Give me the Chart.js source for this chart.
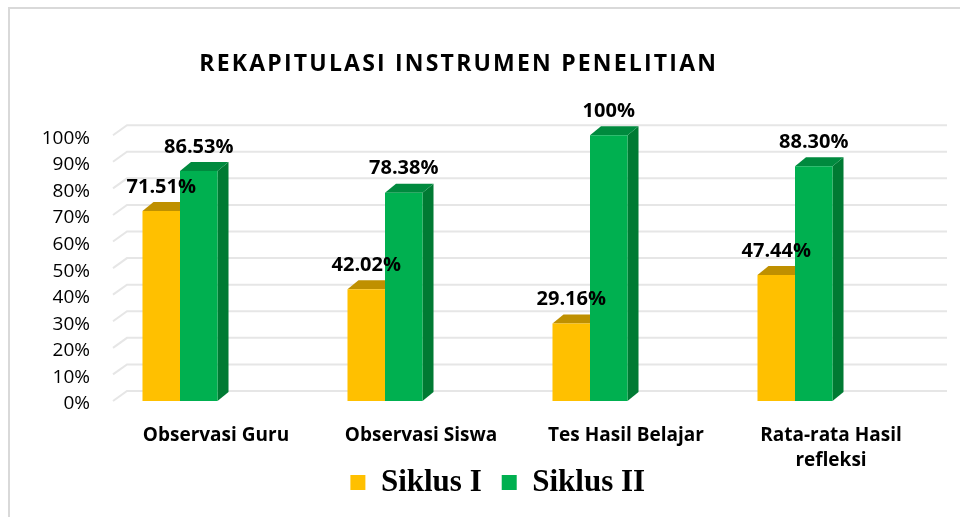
<!DOCTYPE html>
<html>
<head>
<meta charset="utf-8">
<script src="https://cdn.jsdelivr.net/npm/chart.js@4.4.1/dist/chart.umd.min.js"></script>
<style>
  html, body { margin: 0; padding: 0; background: #fff; }
  #wrap { width: 960px; height: 517px; position: relative; }
</style>
</head>
<body>
<div id="wrap"><canvas id="c" width="960" height="517"></canvas></div>
<script>
const categories = ['Observasi Guru', 'Observasi Siswa', 'Tes Hasil Belajar', ['Rata-rata Hasil', 'refleksi']];
const seriesNames = ['Siklus I', 'Siklus II'];
const siklus1 = [71.51, 42.02, 29.16, 47.44];
const siklus2 = [86.53, 78.38, 100, 88.30];
const yTicks = [0, 10, 20, 30, 40, 50, 60, 70, 80, 90, 100];
const chartTitle = 'REKAPITULASI INSTRUMEN PENELITIAN';

const FRONT = ['#FFC000', '#00B050'];
const TOP = ['#BF9000', '#008A3E'];
const SIDE = ['#A87E00', '#007A33'];
const DX = 11, DY = 9;
const BAR_SHIFT = -36;
const SANS = "'Open Sans', sans-serif";

function fmt(v) { return Number.isInteger(v) ? v + '%' : v.toFixed(2) + '%'; }

const frame = {
  id: 'frame',
  beforeDraw(chart) {
    const ctx = chart.ctx;
    ctx.save();
    ctx.fillStyle = '#fff';
    ctx.fillRect(0, 0, chart.width, chart.height);
    ctx.strokeStyle = '#d9d9d9';
    ctx.lineWidth = 2;
    ctx.beginPath();
    ctx.moveTo(9, chart.height);
    ctx.lineTo(9, 8);
    ctx.lineTo(chart.width, 8);
    ctx.stroke();
    ctx.restore();
  }
};

const shiftBlocks = {
  id: 'shiftBlocks',
  afterLayout(chart) {
    const t = chart.titleBlock;
    if (t) {
      t.top += 2; t.bottom += 2;
      t.left -= 13; t.right -= 13;
      if (!t._spaced) {
        const orig = t.draw.bind(t);
        t.draw = function () {
          const ctx = chart.ctx;
          ctx.save();
          ctx.letterSpacing = '2.2px';
          orig();
          ctx.restore();
        };
        t._spaced = true;
      }
    }
    const l = chart.legend;
    if (l) { l.left += 26; l.right += 26; l.top -= 8; l.bottom -= 8; }
    const xs = chart.scales.x;
    if (xs) { xs.bottom += 24; xs.height += 24; }
  }
};

const bars3d = {
  id: 'bars3d',
  beforeDatasetsDraw(chart) {
    const ctx = chart.ctx;
    const ys = chart.scales.y;
    ctx.save();
    // back-wall gridlines
    ctx.strokeStyle = '#e6e6e6';
    ctx.lineWidth = 2;
    yTicks.forEach(v => {
      const y = ys.getPixelForValue(v);
      ctx.beginPath();
      ctx.moveTo(113, y);
      ctx.lineTo(127, y - 10);
      ctx.lineTo(947, y - 10);
      ctx.stroke();
    });
    ctx.restore();
    // shift the bar groups (3D perspective offset) and draw top/side faces
    ctx.save();
    ctx.translate(BAR_SHIFT, 0);
    chart.data.datasets.forEach((ds, di) => {
      const meta = chart.getDatasetMeta(di);
      meta.data.forEach(el => {
        const p = el.getProps(['x', 'y', 'base', 'width'], true);
        const l = p.x - p.width / 2, r = p.x + p.width / 2;
        ctx.fillStyle = SIDE[di];
        ctx.beginPath();
        ctx.moveTo(r, p.y);
        ctx.lineTo(r + DX, p.y - DY);
        ctx.lineTo(r + DX, p.base - DY);
        ctx.lineTo(r, p.base);
        ctx.closePath();
        ctx.fill();
        ctx.fillStyle = TOP[di];
        ctx.beginPath();
        ctx.moveTo(l, p.y);
        ctx.lineTo(l + DX, p.y - DY);
        ctx.lineTo(r + DX, p.y - DY);
        ctx.lineTo(r, p.y);
        ctx.closePath();
        ctx.fill();
      });
    });
  },
  afterDatasetsDraw(chart) {
    const ctx = chart.ctx;
    ctx.font = "bold 20px " + SANS;
    ctx.fillStyle = '#000';
    ctx.textAlign = 'center';
    ctx.textBaseline = 'middle';
    chart.data.datasets.forEach((ds, di) => {
      const meta = chart.getDatasetMeta(di);
      meta.data.forEach((el, i) => {
        const p = el.getProps(['x', 'y'], true);
        ctx.fillText(fmt(ds.data[i]), p.x, p.y - 24);
      });
    });
    ctx.restore();
  }
};

new Chart(document.getElementById('c'), {
  type: 'bar',
  data: {
    labels: categories,
    datasets: [
      { label: seriesNames[0], data: siklus1, backgroundColor: FRONT[0], borderWidth: 0, categoryPercentage: 0.366, barPercentage: 1, clip: false },
      { label: seriesNames[1], data: siklus2, backgroundColor: FRONT[1], borderWidth: 0, categoryPercentage: 0.366, barPercentage: 1, clip: false }
    ]
  },
  options: {
    responsive: false,
    animation: false,
    events: [],
    layout: { padding: { left: 10, right: 26.5, top: 10, bottom: 1 } },
    scales: {
      x: {
        grid: { display: false, drawTicks: false },
        border: { display: false },
        ticks: {
          color: '#000',
          font: { family: SANS, size: 19, weight: 'bold', lineHeight: 1.3 },
          padding: 22.6,
          maxRotation: 0,
          autoSkip: false
        },
        afterFit(s) { s.height = 54; }
      },
      y: {
        min: 0, max: 100,
        grid: { display: false, drawTicks: false },
        border: { display: false },
        ticks: {
          stepSize: 10,
          autoSkip: false,
          color: '#000',
          font: { family: SANS, size: 19 },
          padding: 23.5,
          labelOffset: 3,
          callback: v => v + '%'
        },
        afterFit(s) { s.width = 103.5; }
      }
    },
    plugins: {
      tooltip: { enabled: false },
      title: {
        display: true,
        text: chartTitle,
        color: '#000',
        font: { family: SANS, size: 23, weight: 'bold', lineHeight: 1.2 },
        padding: { top: 38.2, bottom: 59.4 }
      },
      legend: {
        display: true,
        position: 'bottom',
        labels: {
          color: '#000',
          boxWidth: 15,
          boxHeight: 15,
          padding: 20,
          font: { family: "'Liberation Serif', 'Times New Roman', serif", size: 31, weight: 'bold' }
        }
      }
    }
  },
  plugins: [frame, shiftBlocks, bars3d]
});
</script>
</body>
</html>
